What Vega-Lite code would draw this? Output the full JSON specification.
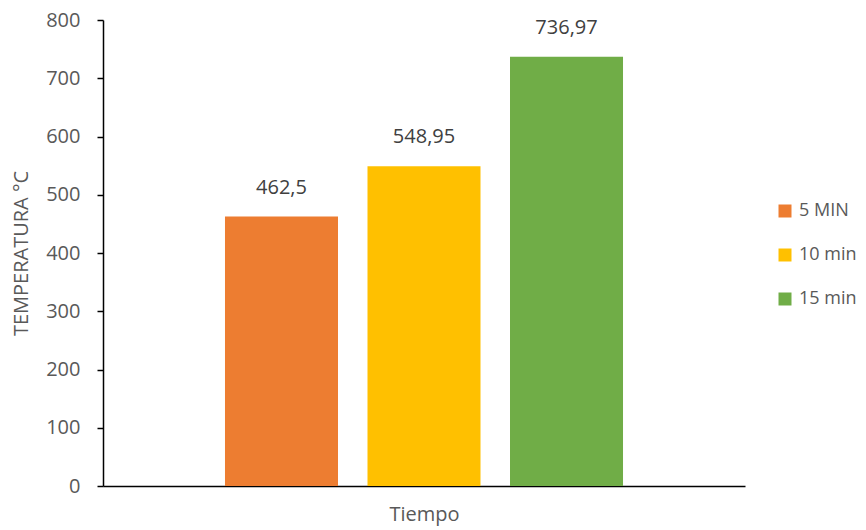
{
  "$schema": "https://vega.github.io/schema/vega-lite/v6.json",
  "width": 642,
  "height": 466,
  "autosize": {"type": "none"},
  "padding": {"left": 103, "top": 20, "right": 121, "bottom": 44},
  "background": "white",
  "config": {"view": {"stroke": null}, "font": "Open Sans"},
  "data": {"values": [
    {"serie": "5 MIN", "temp": 462.5, "label": "462,5"},
    {"serie": "10 min", "temp": 548.95, "label": "548,95"},
    {"serie": "15 min", "temp": 736.97, "label": "736,97"}
  ]},
  "encoding": {
    "x": {"field": "serie", "type": "nominal", "sort": ["5 MIN", "10 min", "15 min"],
      "scale": {"paddingInner": 0.207, "paddingOuter": 0.856},
      "axis": {"title": "Tiempo", "labels": false, "ticks": false, "domainColor": "black", "domainWidth": 1.5,
        "titleFont": "Open Sans", "titleFontSize": 20, "titleFontWeight": "normal", "titleColor": "#595959", "titlePadding": 18}},
    "y": {"field": "temp", "type": "quantitative",
      "scale": {"domain": [0, 800]},
      "axis": {"title": "TEMPERATURA °C", "values": [0,100,200,300,400,500,600,700,800], "grid": false,
        "domainColor": "black", "domainWidth": 1.5, "tickColor": "black", "tickSize": 6, "tickWidth": 1.5,
        "labelFont": "Open Sans", "labelFontSize": 20, "labelColor": "#595959", "labelPadding": 17,
        "titleFont": "Open Sans", "titleFontSize": 20, "titleFontWeight": "normal", "titleColor": "#595959", "titlePadding": 14}}
  },
  "layer": [
    {"mark": {"type": "bar"},
     "encoding": {"color": {"field": "serie", "type": "nominal", "sort": ["5 MIN", "10 min", "15 min"],
       "scale": {"domain": ["5 MIN", "10 min", "15 min"], "range": ["#ED7D31", "#FFC000", "#70AD47"]},
       "legend": {"title": null, "orient": "none", "legendX": 673, "legendY": 182, "symbolType": "square", "symbolSize": 169,
         "symbolStrokeWidth": 0, "labelFont": "Open Sans", "labelFontSize": 18, "labelColor": "#595959", "rowPadding": 26, "labelOffset": 5}}}},
    {"mark": {"type": "text", "baseline": "bottom", "dy": -19, "fontSize": 20, "color": "#404040", "font": "Open Sans"},
     "encoding": {"text": {"field": "label"}}}
  ]
}
